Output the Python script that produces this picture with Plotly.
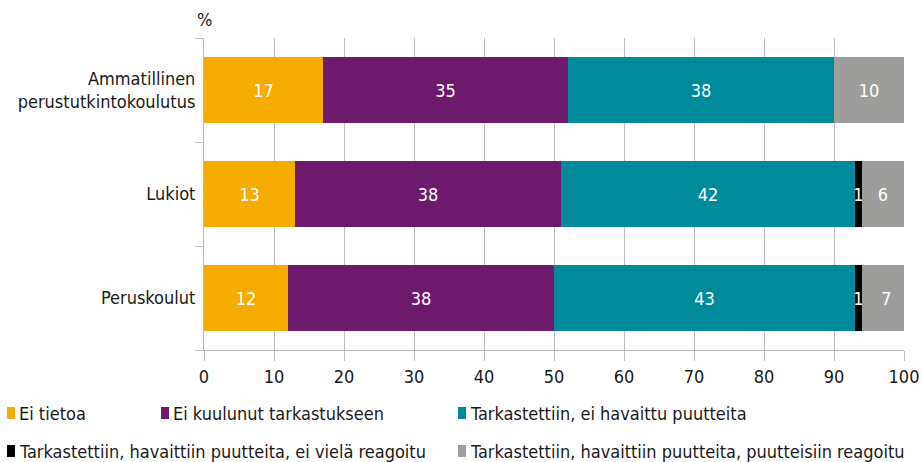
import plotly.graph_objects as go

categories = ['Peruskoulut', 'Lukiot', 'Ammatillinen<br>perustutkintokoulutus']
series_names = [
    'Ei tietoa',
    'Ei kuulunut tarkastukseen',
    'Tarkastettiin, ei havaittu puutteita',
    'Tarkastettiin, havaittiin puutteita, ei vielä reagoitu',
    'Tarkastettiin, havaittiin puutteita, puutteisiin reagoitu',
]
ei_tietoa = [12, 13, 17]
ei_kuulunut = [38, 38, 35]
ei_puutteita = [43, 42, 38]
ei_reagoitu = [1, 1, 0]
reagoitu = [7, 6, 10]
x_ticks = [0, 10, 20, 30, 40, 50, 60, 70, 80, 90, 100]

colors = ['#F5AB00', '#6D1A6C', '#008A9A', '#000000', '#9D9D9C']
values = [ei_tietoa, ei_kuulunut, ei_puutteita, ei_reagoitu, reagoitu]
FONT = 'DejaVu Sans Condensed, Liberation Sans Narrow, Arial Narrow, sans-serif'

FW, FH = 921, 462
# plot area in pixels
L, R, T, B = 204, 904, 38, 350
W, H = R - L, B - T

def px(x):
    return (x - L) / W

def py(y):
    return (B - y) / H

# legend entries: left edge of swatch and vertical centre, in pixels
leg_pos = [(7, 413), (161, 413), (458, 413), (7, 451), (458, 451)]

fig = go.Figure()
for i, (name, vals) in enumerate(zip(series_names, values)):
    fig.add_trace(go.Bar(
        y=categories, x=vals, name=name, orientation='h',
        marker=dict(color=colors[i], line=dict(width=0)),
        text=[str(v) if v > 0 else '' for v in vals],
        textposition='inside', insidetextanchor='middle',
        constraintext='none',
        textfont=dict(color='white', size=18, family=FONT),
        hoverinfo='x+name', showlegend=False,
    ))

# legend drawn by hand (swatch + label) to match the tight spacing
for i, (lx, ly) in enumerate(leg_pos):
    fig.add_shape(type='rect', xref='paper', yref='paper',
                  x0=px(lx), x1=px(lx + 8), y0=py(ly + 6), y1=py(ly - 6),
                  fillcolor=colors[i], line=dict(width=0))
    fig.add_annotation(text=series_names[i], xref='paper', yref='paper',
                       x=px(lx + 10), y=py(ly), xanchor='left', yanchor='middle',
                       showarrow=False, font=dict(size=18, family=FONT, color='#1a1a1a'))

fig.update_layout(
    barmode='stack', bargap=0.365,
    width=FW, height=FH,
    margin=dict(l=L, r=FW - R, t=T, b=FH - B, autoexpand=False),
    plot_bgcolor='white', paper_bgcolor='white',
    font=dict(family=FONT, size=18, color='#1a1a1a'),
    showlegend=False,
)
fig.update_xaxes(
    range=[0, 100], tickvals=x_ticks, showgrid=True, gridcolor='#BDBDBD', gridwidth=1,
    showline=True, linecolor='#BDBDBD', linewidth=1,
    ticks='outside', ticklen=10, tickcolor='#BDBDBD',
    zeroline=False, tickfont=dict(size=18), automargin=False,
)
fig.update_yaxes(
    showline=True, linecolor='#BDBDBD', linewidth=1,
    ticks='outside', ticklen=8, tickcolor='#BDBDBD', tickson='boundaries',
    showgrid=False, tickfont=dict(size=18), ticklabelstandoff=4, automargin=False,
)
fig.add_annotation(text='%', xref='paper', yref='paper', x=0, y=py(20),
                   xanchor='center', yanchor='middle', showarrow=False,
                   font=dict(size=18, family=FONT, color='#1a1a1a'))

# drop the page's default body margin and scrollbars so the figure sits at 0,0
fig.write_html('out.html', config={'displayModeBar': False},
               post_script="document.body.style.margin='0';"
                           "document.body.style.overflow='hidden';")
